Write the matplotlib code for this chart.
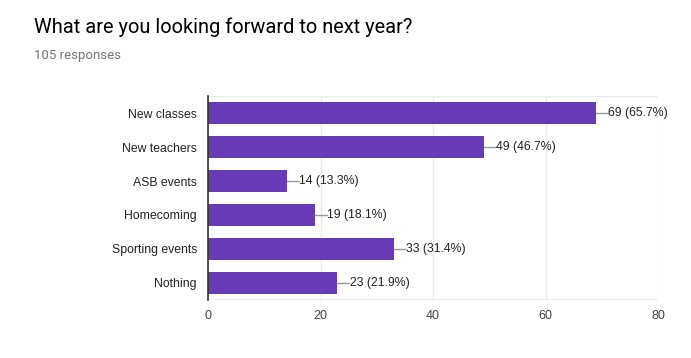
import matplotlib
matplotlib.use('Agg')
import matplotlib.pyplot as plt

categories = ['New classes', 'New teachers', 'ASB events', 'Homecoming',
              'Sporting events', 'Nothing']
counts = [69, 49, 14, 19, 33, 23]
percents = ['65.7%', '46.7%', '13.3%', '18.1%', '31.4%', '21.9%']
xticks = [0, 20, 40, 60, 80]

bar_color = '#673ab7'

plt.rcParams['font.family'] = ['Liberation Sans', 'DejaVu Sans']

fig = plt.figure(figsize=(6.91, 3.58), dpi=100)
fig.text(34 / 691, 1 - 27 / 358, 'What are you looking forward to next year?',
         fontsize=14.4, family='Roboto', color='#000000', va='center', ha='left')
fig.text(34 / 691, 1 - 56 / 358, '105 responses',
         fontsize=9.5, family='Roboto', color='#757575', va='center', ha='left')

ax = fig.add_axes([208 / 691, 58 / 358, 450 / 691, 204 / 358])
pos = list(range(len(categories)))
ax.barh(pos, counts, height=0.62, color=bar_color, zorder=3)
ax.set_ylim(len(categories) - 0.5, -0.5)
ax.set_xlim(0, 80)
ax.set_yticks(pos)
ax.set_yticklabels(categories, fontsize=8.8, color='#222222')
ax.set_xticks(xticks)
ax.set_xticklabels([str(t) for t in xticks], fontsize=9, color='#444444')
ax.tick_params(length=0, pad=8)
ax.tick_params(axis='x', pad=7)

ax.grid(axis='x', color='#ebebeb', linewidth=1, zorder=0)
for s in ['top', 'right', 'bottom']:
    ax.spines[s].set_visible(False)
ax.spines['left'].set_color('#333333')
ax.spines['left'].set_linewidth(1.2)
ax.spines['left'].set_zorder(4)
ax.axhline(len(categories) - 0.5, color='#ebebeb', linewidth=1.5, zorder=1)
ax.axhline(-0.5, color='#ebebeb', linewidth=1, zorder=1)

for i, (c, p) in enumerate(zip(counts, percents)):
    ax.plot([c, c + 2.1], [i, i], color='#999999', linewidth=1, zorder=3,
            clip_on=False)
    ax.text(c + 2.2, i, '%d (%s)' % (c, p), va='center', ha='left',
            fontsize=8.8, color='#222222')

fig.savefig('out.png', dpi=100)
